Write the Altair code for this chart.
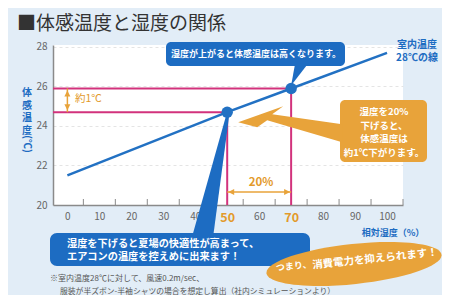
import altair as alt
import pandas as pd

# ---- data ----
humidity = [0, 50, 70, 100]            # 相対湿度 (%)
feel_temp = [21.5, 24.7, 25.9, 27.7]   # 体感温度 (℃)
marked_humidity = [50, 70]
marked_temp = [24.7, 25.9]
x_labels = [0, 10, 20, 30, 40, 50, 60, 70, 80, 90, 100]
minor_ticks = [5, 15, 25, 35, 45, 55, 65, 75, 85, 95, 105]
y_labels = [20, 22, 24, 26, 28]

title_text = "■体感温度と湿度の関係"
top_callout = "湿度が上がると体感温度は高くなります。"
line_label = ["室内温度", "28℃の線"]
orange_box_text = ["湿度を20%", "下げると、", "体感温度は", "約1℃下がります。"]
bottom_box_text = ["湿度を下げると夏場の快適性が高まって、", "エアコンの温度を控えめに出来ます！"]
ellipse_text_a = "つまり、"
ellipse_text_b = "消費電力を抑えられます！"
y_title_chars = ["体", "感", "温", "度"]
footnote_1 = "※室内温度28℃に対して、風速0.2m/sec、"
footnote_2 = "服装が半ズボン-半袖シャツの場合を想定し算出（社内シミュレーションより）"

FONT = "Noto Sans CJK JP"
BLUE = "#1d6cc2"
LINE_BLUE = "#2271c3"
MAG = "#d2327c"
ORANGE = "#e8a33a"
ORANGE_TXT = "#e39a2a"
GRAY = "#666666"

PX, PY = 53, 45  # page position of the plot area's top-left corner
X_MIN, X_MAX = -4.5, 105
Y_MIN, Y_MAX = 20, 28.1

df = pd.DataFrame({"h": humidity, "t": feel_temp})
mk = pd.DataFrame({"h": marked_humidity, "t": marked_temp, "h0": [X_MIN] * 2, "t0": [Y_MIN] * 2})
one = pd.DataFrame({"k": [0]})
ticks_df = pd.DataFrame({"m": minor_ticks})

xs = alt.Scale(domain=[X_MIN, X_MAX], nice=False, zero=False)
ys = alt.Scale(domain=[Y_MIN, Y_MAX], nice=False, zero=False)

hl = "datum.value == 50 || datum.value == 70"
xaxis = alt.Axis(
    values=x_labels, title=None, grid=False, ticks=False,
    domainColor="#8a8a8a", domainWidth=1.5, labelPadding=6,
    labelFont=FONT,
    labelColor={"condition": {"test": hl, "value": ORANGE_TXT}, "value": GRAY},
    labelFontSize={"condition": {"test": hl, "value": 12.5}, "value": 10},
    labelFontWeight={"condition": {"test": hl, "value": "bold"}, "value": "normal"},
)
yaxis = alt.Axis(
    values=y_labels, title=None, grid=True, gridColor="#e4e4e4", gridDash=[3, 3],
    ticks=False, domainColor="#8a8a8a", domainWidth=1.5,
    labelPadding=6, labelColor=GRAY, labelFontSize=10, labelFont=FONT,
)


def X(f):
    return alt.X(f, type="quantitative", scale=xs, axis=xaxis)


def Y(f):
    return alt.Y(f, type="quantitative", scale=ys, axis=yaxis)


def ptext(s, x, y, **kw):
    return alt.Chart(one).mark_text(text=s, font=FONT, **kw).encode(
        x=alt.value(x - PX), y=alt.value(y - PY))


def prect(x1, x2, y1, y2, color, r):
    return alt.Chart(one).mark_rect(color=color, cornerRadius=r).encode(
        x=alt.value(x1 - PX), x2=alt.value(x2 - PX),
        y=alt.value(y1 - PY), y2=alt.value(y2 - PY))


def shape_at(data, path, color, xf="h", yf="t"):
    return alt.Chart(data).mark_point(
        shape=path, size=4, filled=True, color=color, opacity=1, strokeWidth=0
    ).encode(x=X(xf), y=Y(yf))


layers = []

# inward minor ticks on the x axis (6 px long, pointing up)
layers.append(alt.Chart(ticks_df).mark_rule(color="#8a8a8a", strokeWidth=1).encode(
    x=X("m"), y=alt.value(160), y2=alt.value(154)))

# magenta guide lines
layers.append(alt.Chart(mk).mark_rule(color=MAG, strokeWidth=2).encode(
    x=X("h"), x2=alt.X2("h0"), y=Y("t")))
layers.append(alt.Chart(mk).mark_rule(color=MAG, strokeWidth=2).encode(
    x=X("h"), y=Y("t"), y2=alt.Y2("t0")))

# main line
layers.append(alt.Chart(df).mark_line(color=LINE_BLUE, strokeWidth=2.5).encode(
    x=X("h"), y=Y("t")))

# "約1℃" double arrow at humidity 0 between the two magenta lines
gap = pd.DataFrame({"h": [0], "t": [marked_temp[1]], "t2": [marked_temp[0]]})
layers.append(alt.Chart(gap).mark_rule(color=ORANGE, strokeWidth=1.5).encode(
    x=X("h"), y=Y("t"), y2=alt.Y2("t2")))
layers.append(shape_at(gap, "M 0 2 L -3 8 L 3 8 Z", ORANGE))
layers.append(shape_at(gap, "M 0 -2 L -3 -8 L 3 -8 Z", ORANGE, yf="t2"))
layers.append(ptext("約1℃", 75, 99, align="left", baseline="middle", color=ORANGE_TXT, fontSize=10.5))

# "20%" double arrow between 50 and 70
span = pd.DataFrame({"h": [marked_humidity[0]], "h2": [marked_humidity[1]], "t": [20.66]})
layers.append(alt.Chart(span).mark_rule(color=ORANGE, strokeWidth=1.5).encode(
    x=X("h"), x2=alt.X2("h2"), y=Y("t")))
layers.append(shape_at(span, "M 1 0 L 7 -3 L 7 3 Z", ORANGE))
layers.append(shape_at(span, "M -1 0 L -7 -3 L -7 3 Z", ORANGE, xf="h2"))
layers.append(ptext("20%", 261, 183, align="center", baseline="middle", color=ORANGE_TXT,
                    fontSize=11.5, fontWeight="bold"))

# callout boxes
layers.append(prect(166, 345, 42, 66, BLUE, 5))
layers.append(prect(340, 427, 100, 162, ORANGE, 5))
layers.append(prect(50, 310, 233, 266, BLUE, 7))

# pointers and arrow
layers.append(shape_at(mk.iloc[[1]], "M 0 -3 L 4 -25 L 17 -25 Z", BLUE))
layers.append(shape_at(mk.iloc[[0]], "M -1 3 L 2 3 L -14 124 L -35 124 Z", BLUE))
layers.append(shape_at(mk.iloc[[0]],
                       "M 11 10 L 56 -6 L 45 2 L 115 12 L 115 30 L 40 8 L 30 15 Z", ORANGE))

# highlighted points
layers.append(alt.Chart(mk).mark_circle(size=130, color=LINE_BLUE, opacity=1).encode(
    x=X("h"), y=Y("t")))

# ellipse
layers.append(alt.Chart(one).mark_point(
    shape="M -88 0 A 88 20 0 1 0 88 0 A 88 20 0 1 0 -88 0 Z", size=4, filled=True,
    color=ORANGE, opacity=1, strokeWidth=0, angle=354
).encode(x=alt.value(354 - PX), y=alt.value(264 - PY)))

# texts
layers.append(ptext(title_text, 17, 24, align="left", baseline="middle", color="#333333",
                    fontSize=19))
layers.append(ptext(top_callout, 256, 54, align="center", baseline="middle", color="white",
                    fontSize=9, fontWeight="bold"))
layers.append(ptext(line_label, 417, 45, align="center", baseline="middle", color=BLUE,
                    fontSize=10, fontWeight="bold", lineHeight=13))
layers.append(ptext(orange_box_text, 384, 112, align="center", baseline="middle", color="white",
                    fontSize=9.5, fontWeight="bold", lineHeight=13.5))
layers.append(ptext(bottom_box_text, 67, 244, align="left", baseline="middle", color="white",
                    fontSize=10.2, fontWeight="bold", lineHeight=12.5))
layers.append(ptext(ellipse_text_a, 276, 268, align="left", baseline="middle", color="white",
                    fontSize=9, fontWeight="bold", angle=354))
layers.append(ptext(ellipse_text_b, 375, 259, align="center", baseline="middle", color="white",
                    fontSize=10.5, fontWeight="bold", angle=354))
layers.append(ptext("相対湿度（%）", 393, 233, align="center", baseline="middle", color=BLUE,
                    fontSize=9, fontWeight="bold"))
for i, ch in enumerate(y_title_chars):
    layers.append(ptext(ch, 27, 93 + 12.5 * i, align="center", baseline="middle",
                        color=BLUE, fontSize=10, fontWeight="bold"))
layers.append(ptext("(℃)", 27, 144, align="center", baseline="middle", color=BLUE,
                    fontSize=10, fontWeight="bold", angle=90))
layers.append(ptext(footnote_1, 50, 279, align="left", baseline="middle", color="#555555",
                    fontSize=8))
layers.append(ptext(footnote_2, 60, 292, align="left", baseline="middle", color="#555555",
                    fontSize=7.8))

chart = alt.layer(*layers).properties(
    width=350, height=160,
    padding={"left": 45, "top": 37, "right": 39, "bottom": 90},
    autosize=alt.AutoSizeParams(type="none"),
    background="#e2edf7",
).configure(font=FONT).configure_view(fill="white", strokeWidth=0)

chart.save("out.html", embed_options={"renderer": "svg", "actions": False})
